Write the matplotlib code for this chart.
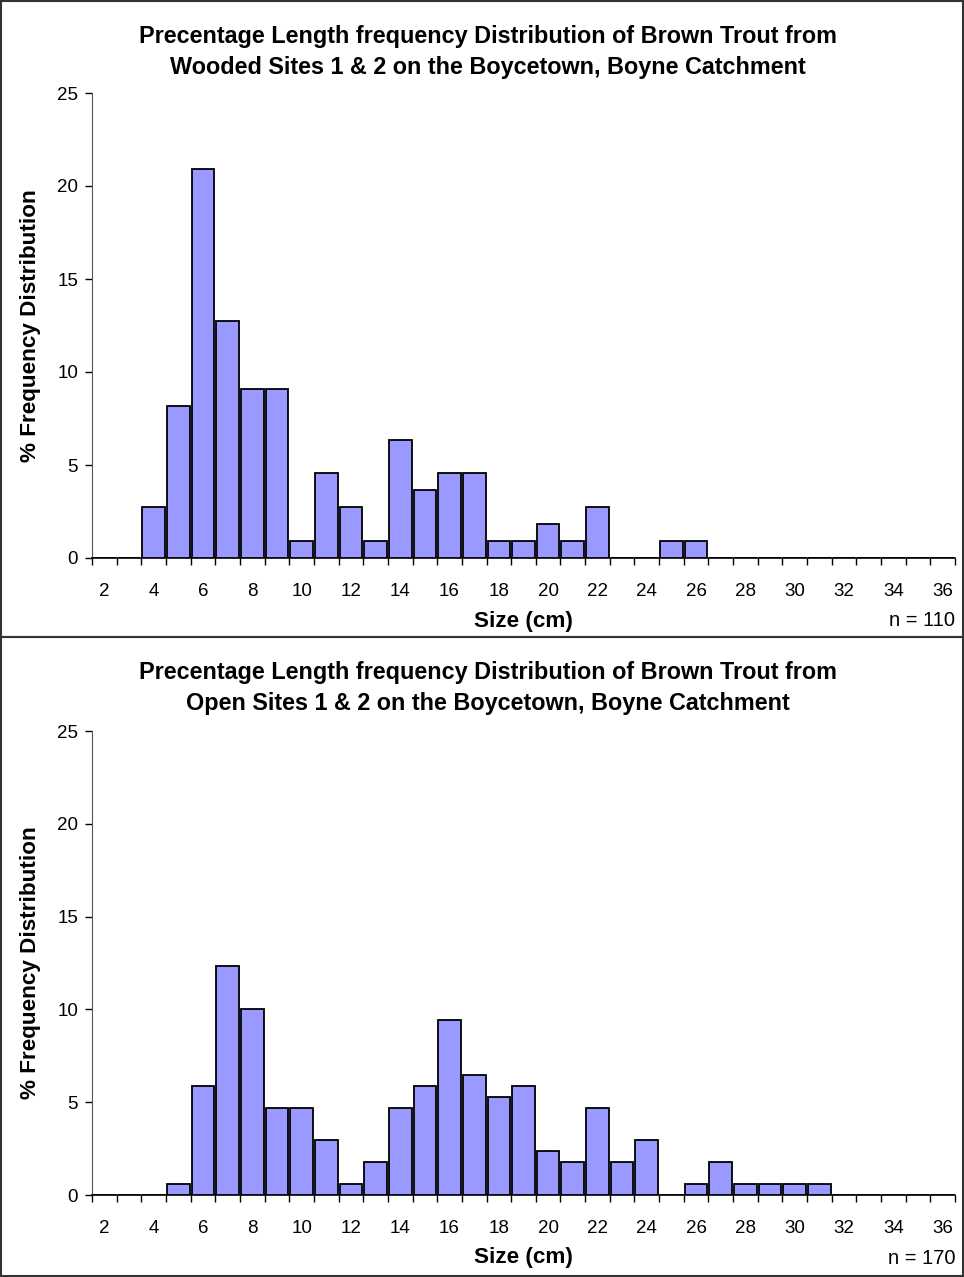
import matplotlib
matplotlib.use("Agg")
import matplotlib.pyplot as plt
from matplotlib.patches import Rectangle
from matplotlib.ticker import FixedLocator, MultipleLocator

plt.rcParams['font.family'] = ['Liberation Sans', 'DejaVu Sans']

# size classes (cm)
sizes = list(range(2, 37))

# % frequency per size class
wooded_pct = [0, 0, 2.73, 8.18, 20.91, 12.73, 9.09, 9.09, 0.91, 4.55,
              2.73, 0.91, 6.36, 3.64, 4.55, 4.55, 0.91, 0.91, 1.82, 0.91,
              2.73, 0, 0, 0.91, 0.91, 0, 0, 0, 0, 0,
              0, 0, 0, 0, 0]
open_pct = [0, 0, 0, 0.59, 5.88, 12.35, 10.0, 4.71, 4.71, 2.94,
            0.59, 1.76, 4.71, 5.88, 9.41, 6.47, 5.29, 5.88, 2.35, 1.76,
            4.71, 1.76, 2.94, 0, 0.59, 1.76, 0.59, 0.59, 0.59, 0.59,
            0, 0, 0, 0, 0]

titles = ["Precentage Length frequency Distribution of Brown Trout from\n"
          "Wooded Sites 1 & 2 on the Boycetown, Boyne Catchment",
          "Precentage Length frequency Distribution of Brown Trout from\n"
          "Open Sites 1 & 2 on the Boycetown, Boyne Catchment"]
n_labels = ["n = 110", "n = 170"]

W, H = 964, 1277
fig = plt.figure(figsize=(W / 100, H / 100), dpi=100)

# pixel layout of each panel: (panel top, panel bottom, axis top, axis bottom)
panels = [(1, 637, 93, 558), (637, 1276, 731, 1195)]
ax_left, ax_right = 92, 955

for data, title, nlab, (ptop, pbot, atop, abot) in zip(
        [wooded_pct, open_pct], titles, n_labels, panels):
    fig.add_artist(Rectangle((1 / W, 1 - pbot / H), (W - 2) / W, (pbot - ptop) / H,
                             transform=fig.transFigure, fill=False,
                             edgecolor='#333333', linewidth=1.5))
    ax = fig.add_axes([ax_left / W, 1 - abot / H,
                       (ax_right - ax_left) / W, (abot - atop) / H])
    ax.bar(sizes, data, width=0.92, color='#9999FF', edgecolor='black',
           linewidth=1.3, zorder=3)
    ax.set_xlim(sizes[0] - 0.5, sizes[-1] + 0.5)
    ax.set_ylim(0, 25)
    ax.yaxis.set_major_locator(MultipleLocator(5))
    ax.xaxis.set_major_locator(FixedLocator(sizes[::2]))
    ax.xaxis.set_minor_locator(FixedLocator([s + 0.5 for s in [sizes[0] - 1] + sizes]))
    ax.tick_params(axis='x', which='major', length=0, labelsize=13.5, pad=18)
    ax.tick_params(axis='x', which='minor', length=5, width=1, direction='out')
    ax.tick_params(axis='y', length=5, width=1, labelsize=13.5, pad=5)
    for s in ['top', 'right']:
        ax.spines[s].set_visible(False)
    ax.spines['left'].set_color('#555555')
    ax.spines['bottom'].set_linewidth(1.2)

    fig.text(488 / W, 1 - 52 / H - (ptop - 1) / H, title, ha='center', va='center',
             fontsize=16.8, fontweight='bold', linespacing=1.45)
    fig.text(31 / W, 1 - (atop + abot) / 2 / H, "% Frequency Distribution",
             rotation=90, ha='center', va='center', fontsize=16.2, fontweight='bold')
    fig.text((ax_left + ax_right) / 2 / W, 1 - (abot + 63) / H, "Size (cm)",
             ha='center', va='center', fontsize=16.2, fontweight='bold')
    fig.text(ax_right / W, 1 - (abot + 63) / H, nlab, ha='right', va='center',
             fontsize=14.5)

fig.savefig("out.png", dpi=100)
